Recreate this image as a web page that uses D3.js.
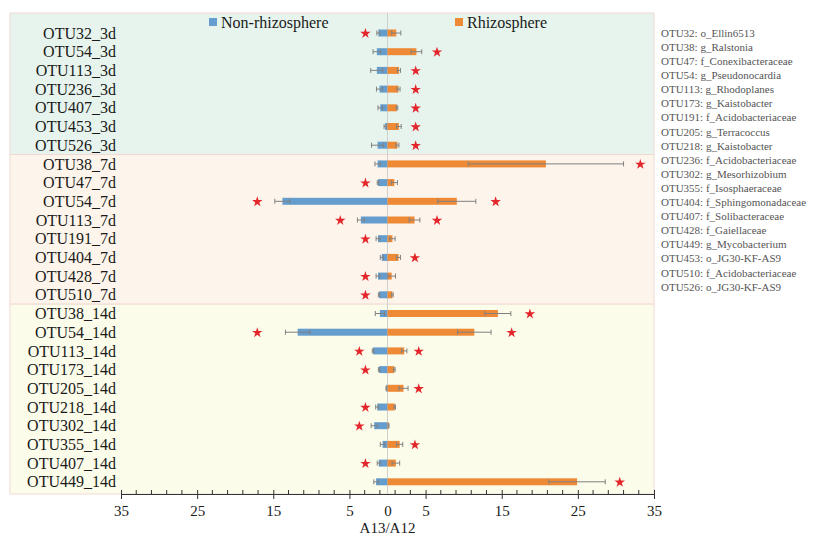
<!DOCTYPE html>
<html>
<head>
<meta charset="utf-8">
<script src="https://cdn.jsdelivr.net/npm/d3@7"></script>
<style>
  body { margin: 0; background: #fff; }
  svg { display: block; }
  text { font-family: "Liberation Serif", "Times New Roman", serif; }
</style>
</head>
<body>
<svg id="chart" width="813" height="536"></svg>
<script>
// row labels, top to bottom
let labels = ['OTU32_3d', 'OTU54_3d', 'OTU113_3d', 'OTU236_3d', 'OTU407_3d', 'OTU453_3d', 'OTU526_3d',
    'OTU38_7d', 'OTU47_7d', 'OTU54_7d', 'OTU113_7d', 'OTU191_7d', 'OTU404_7d', 'OTU428_7d', 'OTU510_7d',
    'OTU38_14d', 'OTU54_14d', 'OTU113_14d', 'OTU173_14d', 'OTU205_14d', 'OTU218_14d', 'OTU302_14d',
    'OTU355_14d', 'OTU407_14d', 'OTU449_14d'];

let groups = ['3d', '7d', '14d'];
let groupColors = ['#e7f4ed', '#fdf5eb', '#fcfcea'];

// Non-rhizosphere (drawn to the left), Rhizosphere (to the right)
let nonRhizo = [1.2, 1.4, 1.4, 1.05, 0.95, 0.3, 1.3,
    1.3, 1.25, 13.8, 3.5, 1.25, 0.75, 1.25, 1.1,
    1.0, 11.8, 1.9, 1.1, 0.15, 1.35, 1.75, 0.65, 1.15, 1.5];
let nonRhizoErr = [0.2, 0.5, 0.8, 0.4, 0.3, 0.15, 0.8,
    0.35, 0.1, 1.0, 0.45, 0.25, 0.2, 0.25, 0.1,
    0.6, 1.6, 0.1, 0.1, 0.05, 0.2, 0.4, 0.3, 0.2, 0.3];
let rhizo = [1.15, 3.8, 1.5, 1.45, 1.25, 1.5, 1.3,
    20.8, 0.9, 9.1, 3.55, 0.65, 1.45, 0.55, 0.65,
    14.5, 11.4, 2.2, 0.9, 2.1, 0.95, 0.15, 1.6, 1.1, 24.9];
let rhizoErr = [0.6, 0.7, 0.2, 0.2, 0.1, 0.3, 0.2,
    10.2, 0.4, 2.5, 0.7, 0.35, 0.25, 0.5, 0.1,
    1.7, 2.2, 0.35, 0.1, 0.6, 0.1, 0.05, 0.4, 0.5, 3.7];

// significance stars (axis value), null = none
let starLeft = [-2.9, null, null, null, null, null, null,
    null, -2.9, -17.1, -6.2, -2.9, null, -2.9, -2.9,
    null, -17.1, -3.7, -2.9, null, -2.9, -3.7, null, -2.9, null];
let starRight = [null, 6.5, 3.7, 3.7, 3.7, 3.7, 3.7,
    33.2, null, 14.2, 6.5, null, 3.6, null, null,
    18.7, 16.3, 4.1, null, 4.1, null, null, 3.6, null, 30.5];

let taxa = ['OTU32: o_Ellin6513', 'OTU38: g_Ralstonia', 'OTU47: f_Conexibacteraceae', 'OTU54: g_Pseudonocardia',
    'OTU113: g_Rhodoplanes', 'OTU173: g_Kaistobacter', 'OTU191: f_Acidobacteriaceae', 'OTU205: g_Terracoccus',
    'OTU218: g_Kaistobacter', 'OTU236: f_Acidobacteriaceae', 'OTU302: g_Mesorhizobium', 'OTU355: f_Isosphaeraceae',
    'OTU404: f_Sphingomonadaceae', 'OTU407: f_Solibacteraceae', 'OTU428: f_Gaiellaceae', 'OTU449: g_Mycobacterium',
    'OTU453: o_JG30-KF-AS9', 'OTU510: f_Acidobacteriaceae', 'OTU526: o_JG30-KF-AS9'];

let majorTicks = [-35, -25, -15, -5, 5, 15, 25, 35];
let tickLabels = [-35, -25, -15, -5, 0, 5, 15, 25, 35];

let blue = '#659ece';
let orange = '#ee8a36';
let errCol = '#808080';

let svg = d3.select('#chart');
let plotL = 10, plotR = 654, plotT = 13, axisY = 494;

let x = d3.scaleLinear().domain([-35, 35]).range([121, 654]);
let y = d3.scalePoint().domain(labels).range([33, 481.8]);
let step = y.step();
let barH = 7;

// group panels
let rows = labels.map((l, i) => ({ label: l, i: i, group: l.split('_')[1] }));
let panels = groups.map((g, k) => {
    let members = rows.filter(r => r.group === g);
    let first = members[0].label, last = members[members.length - 1].label;
    let top = k === 0 ? plotT : y(first) - step / 2;
    let bot = k === groups.length - 1 ? axisY : y(last) + step / 2;
    return { g: g, top: top, bot: bot, fill: groupColors[k] };
});

svg.append('g').selectAll('rect')
    .data(panels)
    .enter()
    .append('rect')
    .attr('x', plotL)
    .attr('y', d => d.top)
    .attr('width', plotR - plotL)
    .attr('height', d => d.bot - d.top)
    .attr('fill', d => d.fill)
    .attr('stroke', '#f2d9d4')
    .attr('stroke-width', 1);

// zero line
svg.append('line')
    .attr('x1', x(0)).attr('x2', x(0))
    .attr('y1', plotT).attr('y2', axisY)
    .attr('stroke', '#cfcfcf')
    .attr('stroke-width', 1);

// bars
let gb = svg.append('g');
gb.selectAll('rect.nr')
    .data(rows)
    .enter()
    .append('rect')
    .attr('class', 'nr')
    .attr('x', d => x(-nonRhizo[d.i]))
    .attr('y', d => y(d.label) - barH / 2)
    .attr('width', d => x(0) - x(-nonRhizo[d.i]))
    .attr('height', barH)
    .attr('fill', blue);

gb.selectAll('rect.rh')
    .data(rows)
    .enter()
    .append('rect')
    .attr('class', 'rh')
    .attr('x', x(0))
    .attr('y', d => y(d.label) - barH / 2)
    .attr('width', d => x(rhizo[d.i]) - x(0))
    .attr('height', barH)
    .attr('fill', orange);

// error bars
function errBars(vals, errs, sign) {
    let ge = svg.append('g').attr('stroke', errCol).attr('stroke-width', 1);
    rows.forEach(d => {
        let v = sign * vals[d.i], e = errs[d.i];
        let cy = y(d.label);
        let a = x(v - e), b = x(v + e);
        ge.append('line').attr('x1', a).attr('x2', b).attr('y1', cy).attr('y2', cy);
        ge.append('line').attr('x1', a).attr('x2', a).attr('y1', cy - 2.5).attr('y2', cy + 2.5);
        ge.append('line').attr('x1', b).attr('x2', b).attr('y1', cy - 2.5).attr('y2', cy + 2.5);
    });
}
errBars(nonRhizo, nonRhizoErr, -1);
errBars(rhizo, rhizoErr, 1);

// stars
let star = d3.symbol().type(d3.symbolStar).size(34);
let starData = [];
rows.forEach(d => {
    if (starLeft[d.i] !== null) starData.push({ v: starLeft[d.i], label: d.label });
    if (starRight[d.i] !== null) starData.push({ v: starRight[d.i], label: d.label });
});
svg.append('g').selectAll('path')
    .data(starData)
    .enter()
    .append('path')
    .attr('d', star)
    .attr('transform', d => 'translate(' + x(d.v) + ',' + (y(d.label) + 0.5) + ')')
    .attr('fill', '#e3262b');

// row labels
svg.append('g').selectAll('text')
    .data(labels)
    .enter()
    .append('text')
    .attr('x', 116)
    .attr('y', d => y(d))
    .attr('dy', '0.35em')
    .attr('text-anchor', 'end')
    .attr('font-size', 16)
    .attr('fill', '#1a1a1a')
    .text(d => d);

// axis
let minorTicks = d3.range(-35, 36, 2).filter(v => !majorTicks.includes(v));
let ga = svg.append('g').attr('transform', 'translate(0,' + axisY + ')');
ga.call(d3.axisBottom(x).tickValues(tickLabels).tickFormat(d => Math.abs(d)).tickSizeOuter(0).tickSize(5).tickPadding(6));
ga.select('.domain').attr('stroke', '#333');
ga.selectAll('.tick line').attr('stroke', '#333').attr('y1', -4)
    .filter(d => d === 0).remove();
ga.selectAll('.tick text')
    .attr('font-family', '"Liberation Serif", serif')
    .attr('font-size', 15)
    .attr('fill', '#1a1a1a');

let gm = svg.append('g').attr('transform', 'translate(0,' + axisY + ')');
gm.selectAll('line')
    .data(minorTicks)
    .enter()
    .append('line')
    .attr('x1', d => x(d)).attr('x2', d => x(d))
    .attr('y1', -4).attr('y2', 1)
    .attr('stroke', '#333');

svg.append('text')
    .attr('x', x(0))
    .attr('y', 533)
    .attr('text-anchor', 'middle')
    .attr('font-size', 15)
    .attr('fill', '#1a1a1a')
    .text('A13/A12');

// legend
let legend = [
    { name: 'Non-rhizosphere', col: blue, x: 209 },
    { name: 'Rhizosphere', col: orange, x: 455 }
];
let gl = svg.append('g');
legend.forEach(l => {
    gl.append('rect').attr('x', l.x).attr('y', 18).attr('width', 8).attr('height', 8).attr('fill', l.col);
    gl.append('text').attr('x', l.x + 12).attr('y', 22).attr('dy', '0.35em')
        .attr('font-size', 16).attr('fill', '#1a1a1a').text(l.name);
});

// taxonomy list
svg.append('g').selectAll('text')
    .data(taxa)
    .enter()
    .append('text')
    .attr('x', 661)
    .attr('y', (d, i) => 33 + i * 14.1)
    .attr('dy', '0.35em')
    .attr('font-size', 11)
    .attr('fill', '#555')
    .text(d => d);
</script>
</body>
</html>
